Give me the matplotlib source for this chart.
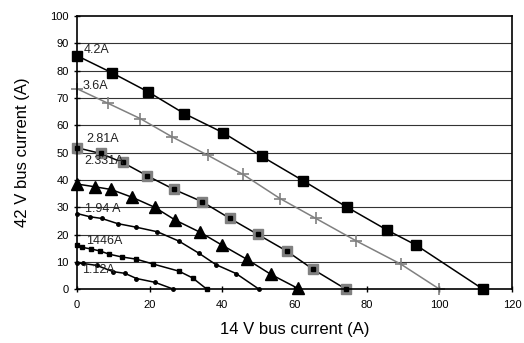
import matplotlib.pyplot as plt

plt.rcParams['font.family'] = ['Liberation Sans', 'DejaVu Sans']

# 14 V bus current (x) vs 42 V bus current (y) per converter current
x_42 = [0, 9.7, 19.7, 29.6, 40.3, 51, 62.4, 74.4, 85.6, 93.6, 112]
y_42 = [85.5, 79.2, 72.2, 64.3, 57.3, 48.6, 39.7, 30.1, 21.6, 16.1, 0]

x_36 = [0, 8.5, 17.4, 26.2, 36, 45.7, 56, 65.9, 77, 89.3, 100]
y_36 = [73.4, 68.1, 62.5, 55.8, 49.1, 42.1, 33.2, 25.9, 17.7, 9.2, 0]

x_281 = [0, 6.5, 12.6, 19.4, 26.8, 34.4, 42.2, 49.8, 57.8, 65.2, 74.2]
y_281 = [51.8, 49.7, 46.4, 41.5, 36.5, 32.1, 25.9, 20.1, 14.0, 7.2, 0]

x_2331 = [0, 4.9, 9.4, 15.3, 21.4, 27.1, 34.0, 39.9, 46.9, 53.5, 60.9]
y_2331 = [38.5, 37.5, 36.5, 33.6, 30.0, 25.3, 20.8, 16.2, 10.9, 5.4, 0.3]

x_194 = [0, 3.6, 6.8, 11.2, 16.3, 22.2, 28.1, 33.7, 38.3, 43.9, 50.2]
y_194 = [27.7, 26.5, 25.9, 24.0, 22.7, 21.0, 17.6, 13.1, 9.0, 5.7, 0]

x_1446 = [0, 1.5, 3.9, 6.3, 8.9, 12.3, 16.3, 21.0, 28.1, 31.9, 35.8]
y_1446 = [16.0, 15.3, 14.7, 14.0, 12.8, 11.8, 11.0, 9.2, 6.6, 4.1, 0]

x_112 = [0, 1.7, 5.4, 10.0, 13.2, 16.4, 21.5, 26.6]
y_112 = [9.5, 9.4, 8.7, 6.4, 5.8, 3.9, 2.5, 0]

labels = ['4.2A', '3.6A', '2.81A', '2.331A', '1.94 A', '1446A', '1.12A']
label_pos = [(1.9, 87.5), (1.6, 74.5), (2.5, 55), (1.9, 46.8), (2.2, 29.3), (2.5, 17.8), (1.3, 7)]

fig, ax = plt.subplots(figsize=(5.24, 3.43), dpi=100)
fig.subplots_adjust(left=0.147, right=0.977, top=0.953, bottom=0.157)

for yv in range(10, 100, 10):
    ax.axhline(yv, color='#333333', lw=0.8, zorder=0)

ax.plot(x_42, y_42, color='black', lw=1.1, marker='s', ms=7, mfc='black', mec='black', clip_on=False)
ax.plot(x_36, y_36, color='#808080', lw=1.1, marker='+', ms=9, mew=1.2, clip_on=False)
ax.plot(x_281, y_281, color='black', lw=1.1, marker='s', ms=6.5, mfc='#808080', mec='#808080', clip_on=False)
ax.plot(x_281, y_281, ls='none', marker='s', ms=2.2, color='black', clip_on=False)
ax.plot(x_2331, y_2331, color='black', lw=1.1, marker='^', ms=8, clip_on=False)
ax.plot(x_194, y_194, color='black', lw=1.1, marker='o', ms=2.5, clip_on=False)
ax.plot(x_1446, y_1446, color='black', lw=1.1, marker='s', ms=2.8, clip_on=False)
ax.plot(x_112, y_112, color='black', lw=1.1, marker='o', ms=2.5, clip_on=False)

for txt, (tx, ty) in zip(labels, label_pos):
    ax.text(tx, ty, txt, fontsize=9, ha='left', va='center', color='#222222')

ax.set_xlim(0, 120)
ax.set_ylim(0, 100)
ax.set_xticks(range(0, 121, 20))
ax.set_yticks(range(0, 101, 10))
ax.tick_params(direction='inout', length=5, width=1, labelsize=8)
ax.tick_params(axis='x', pad=5)
for s in ax.spines.values():
    s.set_linewidth(1.2)

ax.set_xlabel('14 V bus current (A)', fontsize=12)
ax.set_ylabel('42 V bus current (A)', fontsize=12)
ax.xaxis.set_label_coords(0.5, -0.122)
ax.yaxis.set_label_coords(-0.108, 0.5)

plt.savefig('out.png', dpi=100)
